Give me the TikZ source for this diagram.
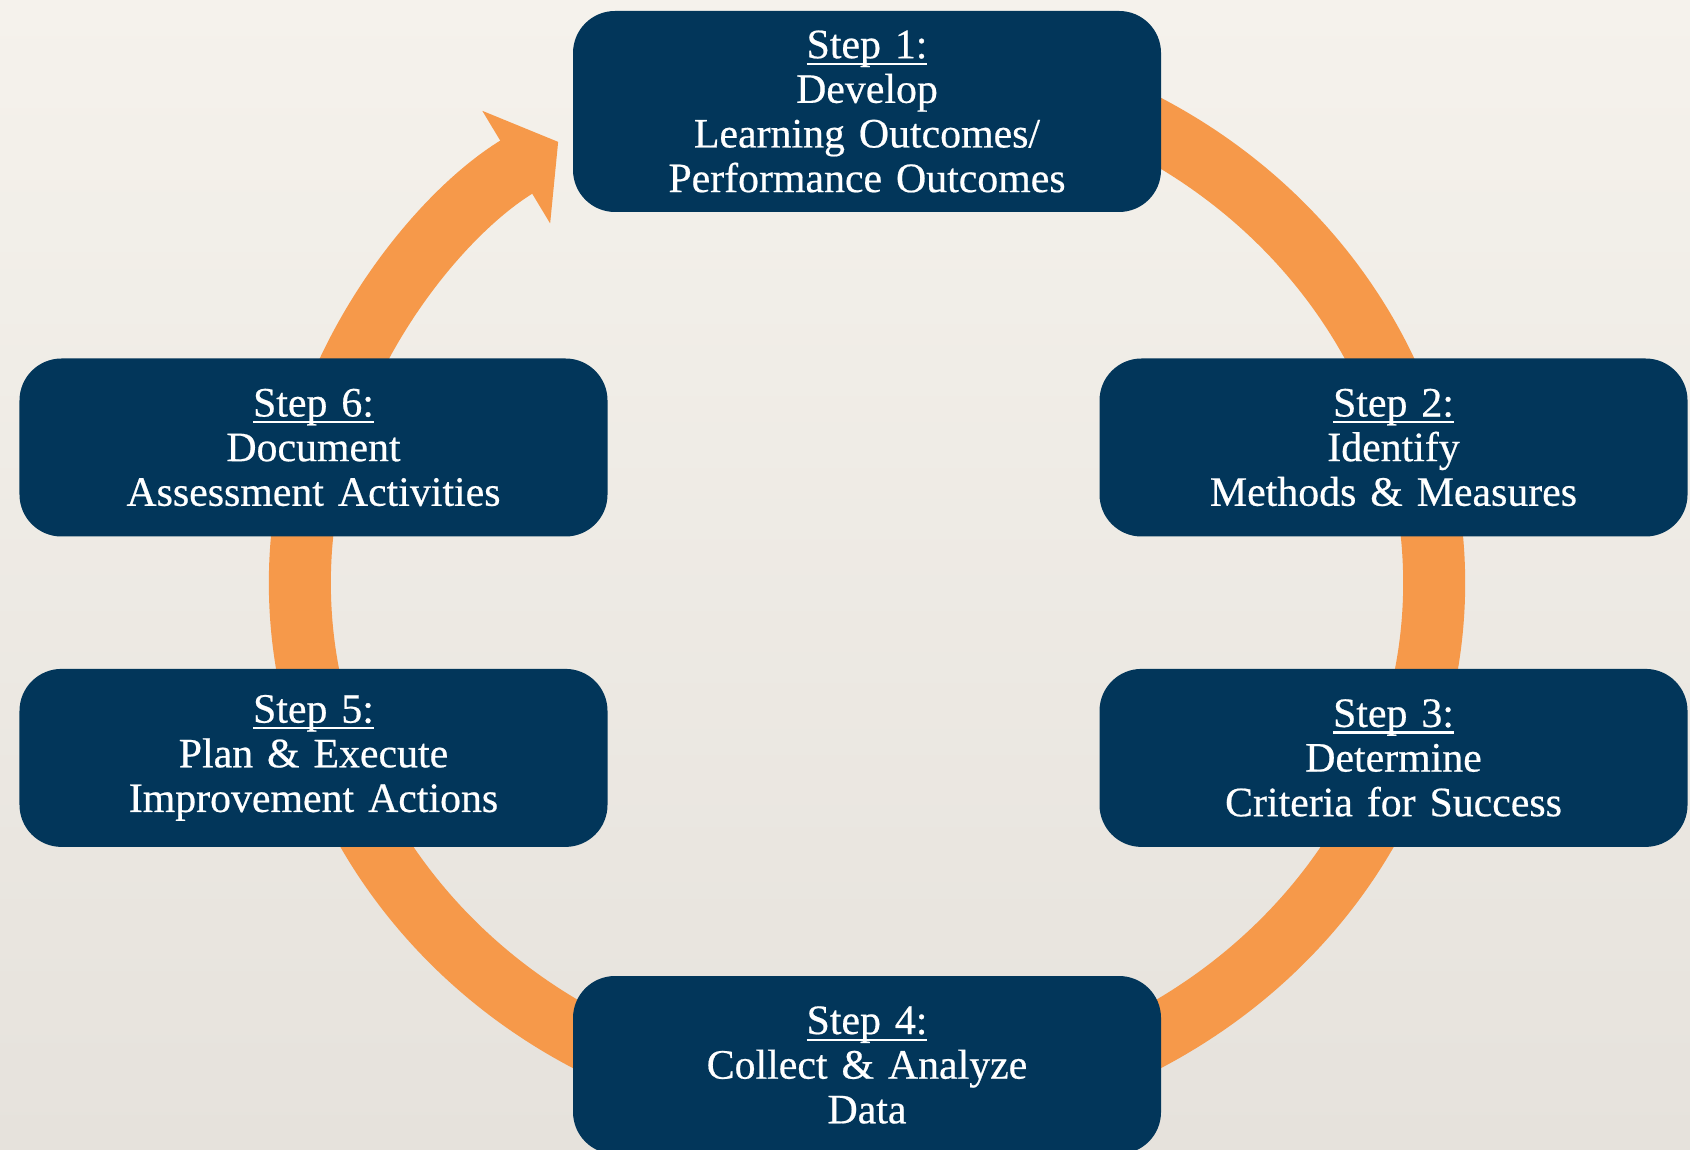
\documentclass[tikz,border=0pt]{standalone}
\usepackage{fontspec}
\setmainfont{Liberation Serif}
\newfontfamily\stagefont{Liberation Serif}[FakeBold=0.5]
\usetikzlibrary{positioning,arrows.meta}

\definecolor{stagenavy}{RGB}{2,54,90}
\definecolor{ringorange}{RGB}{246,153,74}
\definecolor{paperlight}{RGB}{245,242,236}
\definecolor{paperdark}{RGB}{230,226,220}

% underline that cuts through the descenders
\newcommand{\stepul}[1]{\setbox0\hbox{#1}\rlap{\vrule width\wd0 height -1.3pt depth 1.9pt}\box0}

\begin{document}
\begin{tikzpicture}[node distance=1.31cm,
  stage box/.style={rectangle,rounded corners=0.42cm,fill=stagenavy,text=white,
    text width=5.6cm,minimum width=5.88cm,minimum height=1.78cm,align=center,
    inner sep=0pt,font=\stagefont\fontsize{11.9}{12.7}\selectfont},
  cycle arrow/.style={-{Triangle[length=0.49cm,width=1.29cm]},line width=0.62cm,ringorange}]

  \useasboundingbox (0,0) rectangle (16.9,-11.5);
  \shade[top color=paperlight,bottom color=paperdark] (0,0) rectangle (16.9,-11.5);

  % the ring behind the boxes
  \coordinate (ring) at (8.67,-5.83);
  \draw[cycle arrow] (ring) ++(70:5.67 and 5.26)
    arc[start angle=70,end angle=-237,x radius=5.67,y radius=5.26];

  \node[stage box,minimum height=2.01cm] (s1) at (8.67,-1.115)
    {\stepul{Step 1:}\\ Develop\\ Learning Outcomes/\\ Performance Outcomes};
  \node[stage box] (s2) at (13.935,-4.475)
    {\stepul{Step 2:}\\ Identify\\ Methods \& Measures};
  \node[stage box] (s3) [below=of s2]
    {\stepul{Step 3:}\\ Determine\\ Criteria for Success};
  \node[stage box] (s4) at (8.67,-10.65)
    {\stepul{Step 4:}\\ Collect \& Analyze\\ Data};
  \node[stage box] (s6) at (3.135,-4.475)
    {\stepul{Step 6:}\\ Document\\ Assessment Activities};
  \node[stage box] (s5) [below=of s6]
    {\stepul{Step 5:}\\ Plan \& Execute\\ Improvement Actions};
\end{tikzpicture}
\end{document}
